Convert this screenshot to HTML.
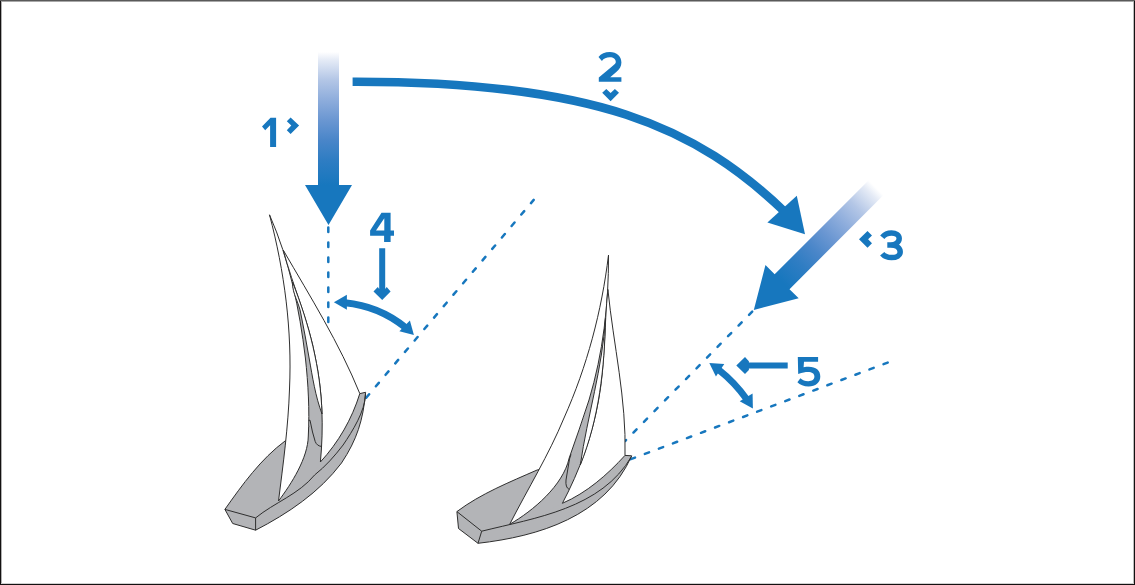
<!DOCTYPE html>
<html><head><meta charset="utf-8"><style>
html,body{margin:0;padding:0;background:#fff;}
#wrap{position:relative;width:1135px;height:585px;overflow:hidden;background:#fff;}
svg{position:absolute;left:0;top:0;}
.b{position:absolute;}
</style></head><body><div id="wrap">
<svg width="1135" height="585" viewBox="0 0 1135 585">
<defs>
<linearGradient id="g1" gradientUnits="userSpaceOnUse" x1="0" y1="-173" x2="0" y2="-40"><stop offset="0" stop-color="#ffffff"/><stop offset="0.06" stop-color="#e5ebf6"/><stop offset="0.21" stop-color="#b3c6e6"/><stop offset="0.36" stop-color="#8eaddc"/><stop offset="0.51" stop-color="#6b97d2"/><stop offset="0.66" stop-color="#4a86c9"/><stop offset="0.81" stop-color="#2f7dc3"/><stop offset="1" stop-color="#1777be"/></linearGradient>
<linearGradient id="g3" gradientUnits="userSpaceOnUse" x1="0" y1="-173" x2="0" y2="-40"><stop offset="0" stop-color="#ffffff"/><stop offset="0.06" stop-color="#e5ebf6"/><stop offset="0.21" stop-color="#b3c6e6"/><stop offset="0.36" stop-color="#8eaddc"/><stop offset="0.51" stop-color="#6b97d2"/><stop offset="0.66" stop-color="#4a86c9"/><stop offset="0.81" stop-color="#2f7dc3"/><stop offset="1" stop-color="#1777be"/></linearGradient>
</defs>
<path d="M328.3,227.4 L328.3,322" stroke="#1777be" stroke-width="2.5" stroke-dasharray="4.5 10.5" stroke-linecap="round" fill="none"/>
<path d="M366.2,397.7 L533.7,199.9" stroke="#1777be" stroke-width="2.5" stroke-dasharray="4.5 10.5" stroke-linecap="round" fill="none"/>
<path d="M752.2,311.6 L625.1,441" stroke="#1777be" stroke-width="2.5" stroke-dasharray="4.5 10.5" stroke-linecap="round" fill="none"/>
<path d="M630.8,459.2 L887.7,362.6" stroke="#1777be" stroke-width="2.5" stroke-dasharray="4.5 10.5" stroke-linecap="round" fill="none"/>
<path d="M224.9,509.4 C242.34,484.64 260.81,458.95 285.30,440.80 L320.0,420.0 L359.8,393.6 L365.6,392.3 C363.07,420.44 356.94,439.70 341.50,463.00 C319.17,492.60 288.17,513.30 255.60,530.20 L232.7,523.5 L224.9,509.4 Z" fill="#b3b4b7" stroke="#2e2e2e" stroke-width="1.0" stroke-linejoin="round"/>
<path d="M292.0,280.0 C301.40,325.38 309.49,371.45 308.80,418.00 C312.16,448.91 296.66,477.44 278.50,501.00 L300.0,495.0 L320.4,462.0 C327.51,400.03 314.77,337.49 292.00,280.00 Z" fill="#b3b4b7" stroke="none"/>
<path d="M269.5,214.8 C284.48,271.36 292.20,330.34 289.50,389.00 C288.26,426.61 283.20,463.74 278.50,501.00 C291.42,483.76 308.00,457.90 308.30,436.00 C309.66,409.93 308.22,383.97 305.40,358.00 C299.46,309.16 289.46,259.98 269.50,214.80 Z" fill="#fff" stroke="#2e2e2e" stroke-width="1.0" stroke-linejoin="round"/>
<path d="M283.3,250.2 C310.37,296.87 339.49,343.51 359.80,393.60 C351.93,419.02 338.47,442.40 320.40,462.00 C323.70,427.31 322.72,392.13 315.40,358.00 C308.79,320.68 292.88,286.70 283.30,250.20 Z" fill="#fff" stroke="#2e2e2e" stroke-width="1.0" stroke-linejoin="round"/>
<path d="M292.5,282.0 C292.09,293.60 299.22,302.91 300.90,314.00 C303.79,328.62 306.60,343.26 309.10,358.00 C312.52,376.97 315.24,395.77 322.00,414.00 C320.71,368.57 309.15,324.09 292.50,282.00 Z" fill="#fff" stroke="#2e2e2e" stroke-width="1.0" stroke-linejoin="round"/>
<path d="M255.6,517.9 C274.58,502.42 298.68,494.39 314.60,475.00 C325.51,466.39 334.66,456.05 343.10,445.00 C352.51,431.10 365.02,411.34 365.60,394.00" fill="none" stroke="#2e2e2e" stroke-width="1.0" stroke-linejoin="round"/>
<path d="M224.9,509.4 L255.6,517.9 L255.6,530.2" fill="none" stroke="#2e2e2e" stroke-width="1.0" stroke-linejoin="round"/>
<path d="M308.6,420.4 L310,420.2 L312.5,432 L315.2,441.5 C316.3,444.5 318.5,446 321.2,446.4" fill="none" stroke="#2e2e2e" stroke-width="1.0" stroke-linejoin="round"/>
<path d="M456.9,511.6 C480.94,493.51 509.92,482.02 537.10,470.00 L590.0,460.0 L625.0,455.4 L631.7,455.8 C604.94,516.44 538.78,536.39 478.00,543.30 L458.5,528.5 L456.9,511.6 Z" fill="#b3b4b7" stroke="#2e2e2e" stroke-width="1.0" stroke-linejoin="round"/>
<path d="M606.9,300.0 C604.32,348.19 592.21,394.87 575.50,440.00 C567.31,455.94 568.81,475.99 552.90,488.00 C541.37,503.39 526.32,514.73 509.70,524.30 L540.0,515.0 L562.4,503.3 C575.91,476.19 588.84,448.00 594.60,418.00 C604.80,379.66 603.77,339.14 607.00,300.00 Z" fill="#b3b4b7" stroke="none"/>
<path d="M608.5,255.1 C601.71,311.21 587.09,366.42 564.00,418.00 C548.71,454.99 527.86,488.69 509.70,524.30 C532.92,510.90 563.14,485.60 569.20,458.00 C575.89,438.79 582.86,419.44 589.00,400.00 C603.13,353.21 608.77,303.83 608.50,255.10 Z" fill="#fff" stroke="#2e2e2e" stroke-width="1.0" stroke-linejoin="round"/>
<path d="M607.9,289.5 C613.43,344.69 626.63,399.71 625.00,455.40 C607.26,474.88 586.73,492.78 562.40,503.30 C579.60,470.62 592.22,436.30 598.60,400.00 C605.33,363.38 604.05,326.28 607.90,289.50 Z" fill="#fff" stroke="#2e2e2e" stroke-width="1.0" stroke-linejoin="round"/>
<path d="M605.5,318.0 C602.62,367.72 587.43,415.79 580.30,465.00 C599.13,418.33 604.58,367.79 605.50,318.00 Z" fill="#fff" stroke="#2e2e2e" stroke-width="1.0" stroke-linejoin="round"/>
<path d="M481.7,531.2 C535.37,517.86 601.37,508.66 631.70,456.20" fill="none" stroke="#2e2e2e" stroke-width="1.0" stroke-linejoin="round"/>
<path d="M456.9,511.6 L481.7,531.2 L478,543.3" fill="none" stroke="#2e2e2e" stroke-width="1.0" stroke-linejoin="round"/>
<path d="M571,454.4 L569.5,459 L566,480 C565.5,485 566.5,488 569,489.3" fill="none" stroke="#2e2e2e" stroke-width="1.0" stroke-linejoin="round"/>
<g transform="translate(328.5,225)"><path d="M-10.5,-173 L10.5,-173 L10.5,-40 L23.5,-40 L0,0 L-23.5,-40 L-10.5,-40 Z" fill="url(#g1)"/></g>
<g transform="translate(753.8,310) rotate(45)"><path d="M-10.5,-173 L10.5,-173 L10.5,-40 L23.5,-40 L0,0 L-23.5,-40 L-10.5,-40 Z" fill="url(#g3)"/></g>
<path d="M352.6,81.7 C594.9,81.2 696,126.5 786,213" fill="none" stroke="#1777be" stroke-width="8.6"/>
<path d="M796.8,195.7 L805,234.3 L767.4,222.4 Z" fill="#1777be"/>
<path d="M344.93,302.74 A114,114 0 0 1 405.67,327.63" fill="none" stroke="#1777be" stroke-width="7"/><path d="M333.90,302.20 L346.90,309.70 L346.90,294.70 Z" fill="#1777be"/><path d="M413.90,334.99 L409.91,320.52 L399.38,331.21 Z" fill="#1777be"/>
<path d="M718.24,369.41 A146,146 0 0 1 746.81,399.39" fill="none" stroke="#1777be" stroke-width="6.8"/><path d="M709.31,362.90 L715.92,376.38 L724.28,363.93 Z" fill="#1777be"/><path d="M752.88,408.62 L752.57,393.62 L739.73,401.37 Z" fill="#1777be"/>
<path d="M379.2,248.3 L385.2,248.3 L385.2,289 L386.7,287.1 L390.6,291.4 L382.2,299.9 L373.5,291.4 L377.8,287.1 L379.2,289 Z" fill="#1777be"/>
<path d="M787.7,362.6 L787.7,368.6 L748.9,368.6 L748.9,370.1 L745,374.1 L736.3,365.4 L745,356.9 L748.9,361.3 L748.9,362.6 Z" fill="#1777be"/>
<path d="M286.8,121.2 L290.6,117.4 L299.1,125.6 L290.6,134.1 L286.8,130.2 L291.3,125.6 Z" fill="#1777be"/>
<path d="M602.2,92.7 L606.3,88.9 L610.6,93.0 L614.9,88.9 L619.0,92.7 L610.6,101.3 Z" fill="#1777be"/>
<path d="M872,235.4 L867.5,230.9 L859,239.3 L867.5,247.8 L872,243.3 L868.1,239.3 Z" fill="#1777be"/>
<path d="M262,126.4 L270.5,117.8 L276.1,117.8 L276.1,146.9 L270.1,146.9 L270.1,125.3 L265.2,130.2 Z" fill="#1777be"/>
<path d="M598.5,57.1 C601,53.5 605,52 609.8,52 C616.8,52 621.4,56.5 621.4,62.5 C621.4,66.5 619.6,69.3 616,72.3 L610.2,77.3 L621.4,77.3 L621.4,81.7 L598.8,81.7 L598.8,77.4 L612,66.5 C614.6,64.3 615.8,63.3 615.8,62 C615.8,59.2 613.4,57.3 609.8,57.3 C606.5,57.3 603.6,58.6 601.9,60.9 Z" fill="#1777be"/>
<path d="M882.3,237.2 C884.5,234.5 887.8,233 891.5,233 C896,233 899.2,235.3 899.2,238.6 C899.2,242.2 895.5,245 890.5,245 L887.3,245 M890.5,245 C896.5,245 900.2,248 900.2,252 C900.2,255.5 896.6,257.6 891.5,257.6 C887.5,257.6 884.3,256.3 882.2,253.8" fill="none" stroke="#1777be" stroke-width="5.5"/>
<path d="M381.5,212.7 L390.6,212.7 L390.6,230.4 L394,230.4 L394,235.8 L390.6,235.8 L390.6,241.9 L384.1,241.9 L384.1,235.8 L370.1,235.8 L370.1,230.4 Z M384.3,218.3 L376,230.4 L384.3,230.4 Z" fill="#1777be" fill-rule="evenodd"/>
<path d="M797.8,356.9 L818.1,356.9 L818.1,361.7 L804,361.7 L803.6,367.3 C805.5,366.9 807.3,366.8 808.6,366.8 C816,366.8 820.3,370.5 820.3,376.4 C820.3,382.5 815.5,386.4 808.6,386.4 C803.8,386.4 799.8,384.8 797.4,382.2 L800.4,378.2 C802.5,380.2 805.1,381.2 808.2,381.2 C812.2,381.2 814.4,379.6 814.4,376.6 C814.4,373.7 812.2,372 807.8,372 C805.2,372 802.8,372.6 798.2,374 Z" fill="#1777be"/>
</svg>
<div class="b" style="left:0;top:0;width:1135px;height:1px;background:#5a5a5a"></div>
<div class="b" style="left:1px;top:1px;width:1133px;height:1px;background:#a8a8a8"></div>
<div class="b" style="left:0;top:1px;width:1px;height:584px;background:#141111"></div>
<div class="b" style="left:1px;top:2px;width:1px;height:581px;background:#b0b0b0"></div>
<div class="b" style="left:1134px;top:1px;width:1px;height:584px;background:#141111"></div>
<div class="b" style="left:1133px;top:2px;width:1px;height:581px;background:#bcbcbc"></div>
<div class="b" style="left:0;top:584px;width:1135px;height:1px;background:#141111"></div>
<div class="b" style="left:1px;top:583px;width:1133px;height:1px;background:#d0d0d0"></div>
</div></body></html>
